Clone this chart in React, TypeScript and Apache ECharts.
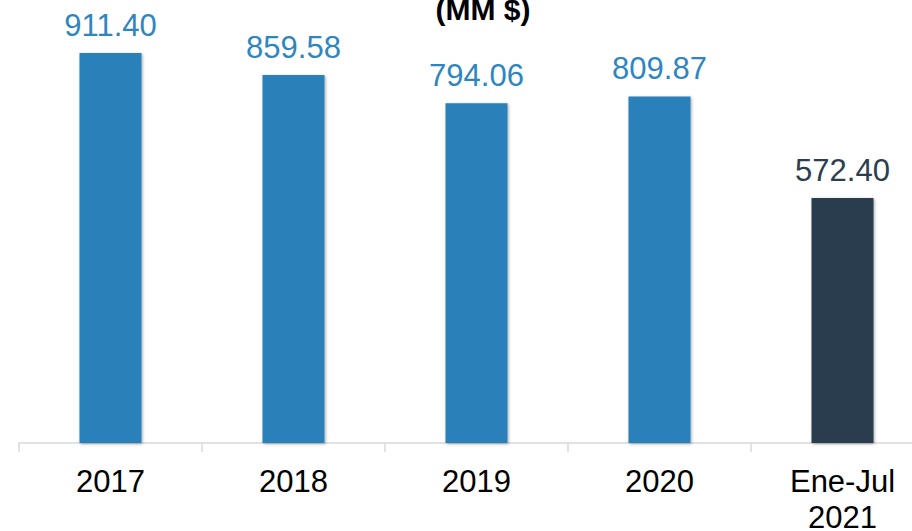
import React, { useEffect, useRef } from "react";
import * as echarts from "echarts";

const categories = ["2017", "2018", "2019", "2020", "Ene-Jul\n2021"];
const values = [911.4, 859.58, 794.06, 809.87, 572.4];
const barColors = ["#2980b9", "#2980b9", "#2980b9", "#2980b9", "#2c3e50"];
const labelColors = ["#2e86c1", "#2e86c1", "#2e86c1", "#2e86c1", "#2c3e50"];
const titleText = "(MM $)";

export default function App() {
  const ref = useRef<HTMLDivElement>(null);
  useEffect(() => {
    const chart = echarts.init(ref.current!, null, { renderer: "svg" });
    chart.setOption({
      animation: false,
      textStyle: { fontFamily: "Liberation Sans, Arial, sans-serif" },
      title: {
        text: titleText,
        left: 478,
        textAlign: "center",
        top: -11,
        textStyle: { fontSize: 30, fontWeight: "bold", color: "#000", fontFamily: "Liberation Sans, Arial, sans-serif" },
      },
      grid: { left: 19, width: 915, top: 15, height: 428, containLabel: false, outerBoundsMode: "none" },
      xAxis: {
        type: "category",
        data: categories,
        axisLine: { lineStyle: { color: "#d9d9d9", width: 1.5 } },
        axisTick: { show: true, length: 9, lineStyle: { color: "#d9d9d9", width: 1.5 } },
        axisLabel: { color: "#000", fontSize: 31, margin: 20, lineHeight: 36, interval: 0 },
      },
      yAxis: { type: "value", min: 0, max: 1000, show: false, splitLine: { show: false } },
      series: [
        {
          type: "bar",
          barWidth: 62,
          data: values.map((v, i) => ({
            value: v,
            itemStyle: {
              color: barColors[i],
              shadowColor: "rgba(0,0,0,0.35)",
              shadowBlur: 3,
              shadowOffsetX: 1,
              shadowOffsetY: 1,
            },
            label: { color: labelColors[i] },
          })),
          label: {
            show: true,
            position: "top",
            distance: 12,
            fontSize: 31,
            formatter: (p: any) => p.value.toFixed(2),
          },
        },
      ],
    });
    return () => chart.dispose();
  }, []);
  return <div ref={ref} style={{ width: 912, height: 531, position: "absolute", left: 0, top: 0 }} />;
}
